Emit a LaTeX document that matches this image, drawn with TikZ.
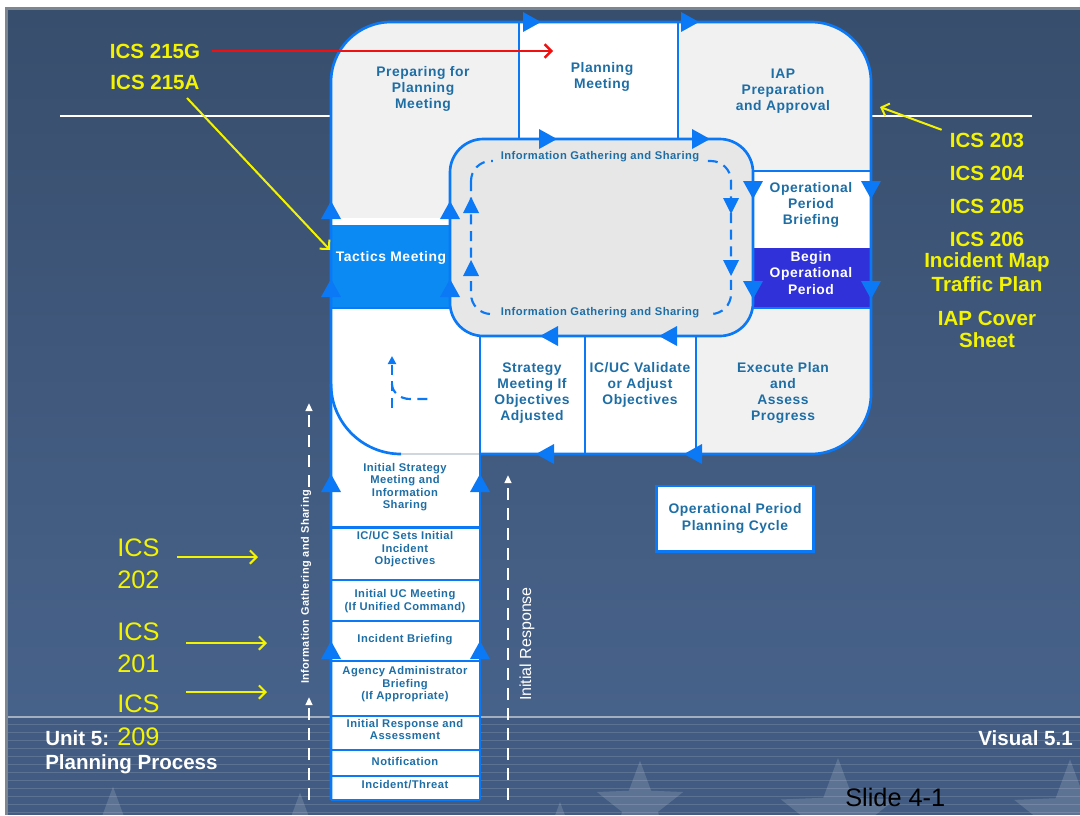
\documentclass[tikz,border=0pt]{standalone}
\usepackage{fontspec}
\setmainfont{Liberation Sans}
\usetikzlibrary{arrows.meta,shapes.geometric}
\definecolor{cblue}{HTML}{0B78F5}
\definecolor{ctext}{HTML}{1E6EA6}
\definecolor{cgray}{HTML}{F1F1F1}
\definecolor{cinner}{HTML}{E7E7E7}
\definecolor{ctac}{HTML}{0A8AF2}
\definecolor{cbegin}{HTML}{3131D9}
\definecolor{cyel}{HTML}{F4F400}
\definecolor{bgtop}{HTML}{384E6D}
\definecolor{bgbot}{HTML}{47628A}
\definecolor{bgband}{HTML}{415B82}
\definecolor{cframe}{HTML}{7C8590}
\definecolor{cbandline}{HTML}{A3AEBF}
\definecolor{cred}{HTML}{F01010}
\definecolor{csep}{HTML}{D0D6DE}

\newcommand\spaced{\addfontfeature{LetterSpace=4}}

\tikzset{
  outl/.style={draw=cblue, line width=2pt},
  sepl/.style={draw=cblue, line width=1.6pt},
  dloop/.style={draw=cblue, line width=1.6pt, dash pattern=on 7.5pt off 5pt},
  lbl/.style={font=\bfseries\fontsize{10.4}{12.2}\selectfont\spaced, text=ctext, align=center, inner sep=0pt},
  wlbl/.style={lbl, text=white},
  slbl/.style={font=\bfseries\fontsize{8.4}{9.4}\selectfont\spaced, text=ctext, align=center, inner sep=0pt},
  ilbl/.style={font=\bfseries\fontsize{8.4}{9}\selectfont\spaced, text=ctext, fill=cinner, inner xsep=6pt, inner ysep=2pt},
  ylbl/.style={font=\bfseries\fontsize{15.4}{18}\selectfont, text=cyel, inner sep=0pt},
  yreg/.style={font=\fontsize{19}{23}\selectfont, text=cyel, inner sep=0pt, anchor=west},
  foot/.style={font=\bfseries\fontsize{15.4}{17}\selectfont, text=white, inner sep=0pt},
  yarr/.style={draw=cyel, line width=1.5pt, -{Straight Barb[length=5pt,width=10pt,line width=1.5pt]}},
  rarr/.style={draw=cred, line width=1.8pt, -{Straight Barb[length=5pt,width=10pt,line width=1.8pt]}},
  warr/.style={draw=white, line width=1.5pt, dash pattern=on 9pt off 6pt, -{Triangle[length=6pt,width=5pt]}},
  starsh/.style={star, star points=5, star point ratio=2.4, fill=white, opacity=.15, draw=none, inner sep=0pt},
  triU/.pic={\fill[cblue] (-10,9) -- (10,9) -- (0,-9) -- cycle;},
  triD/.pic={\fill[cblue] (-10,-9) -- (10,-9) -- (0,9) -- cycle;},
  triR/.pic={\fill[cblue] (-9,-10) -- (-9,10) -- (9,0) -- cycle;},
  triL/.pic={\fill[cblue] (9,-10) -- (9,10) -- (-9,0) -- cycle;},
  stU/.pic={\fill[cblue] (-8,8) -- (8,8) -- (0,-8) -- cycle;},
  stD/.pic={\fill[cblue] (-8,-8) -- (8,-8) -- (0,8) -- cycle;},
}

\begin{document}
\begin{tikzpicture}[x=0.75pt,y=-0.75pt]
\useasboundingbox (0,0) rectangle (1080,815);
\clip (0,0) rectangle (1080,815);

% slide background and frame
\fill[white] (0,0) rectangle (1080,815);
\fill[cframe] (5,7) rectangle (1080,815);
\shade[top color=bgtop, bottom color=bgbot] (8,10) rectangle (1080,717);
\fill[bgband] (8,717) rectangle (1080,815);
\begin{scope}
  \clip (8,717) rectangle (1080,815);
  \node[starsh, minimum size=68pt] (st1) at (113,832) {};
  \node[starsh, minimum size=68pt] (st2) at (300,838) {};
  \node[starsh, minimum size=60pt] (st3) at (560,842) {};
  \node[starsh, minimum size=68pt] (st4) at (640,806) {};
  \node[starsh, minimum size=90pt] (st5) at (838,818) {};
  \node[starsh, minimum size=88pt] (st6) at (1070,818) {};
  \foreach \yy in {724,732,...,812}
    \draw[white, opacity=.14, line width=.6pt] (8,\yy) -- (1080,\yy);
\end{scope}
\draw[cbandline, line width=1pt] (8,717) -- (1080,717);

% white rules through the header
\draw[white, line width=1.6pt] (60,116) -- (331,116);
\draw[white, line width=1.6pt] (871,116) -- (1032,116);

% cycle body
\fill[cgray] (331,454) [rounded corners=45pt] -- (331,22) -- (871,22) -- (871,454) -- (400,454);
\fill[white] (519,22) rectangle (678,139);
\fill[white] (331,308) rectangle (480,454);
\fill[white] (480,336) rectangle (696,454);
\fill[white] (753,171) rectangle (871,248);
\fill[cbegin] (753,248) rectangle (871,308);
\fill[white] (331,218) rectangle (450,225);
\fill[ctac] (331,225) rectangle (450,308);

% initial-response column
\fill[white] (331,454) rectangle (480,800);
\foreach \yy in {527.5,580,621,661,716,750,776}
  \draw[sepl] (331,\yy) -- (480,\yy);
\draw[outl] (331,800) -- (480,800);
\draw[csep, line width=.8pt] (401,454) -- (480,454);

% inner information loop box
\filldraw[fill=cinner, draw=cblue, line width=2pt, rounded corners=25pt] (450,139) rectangle (753,336);

% outlines and dividers
\draw[outl] (480,454) [rounded corners=45pt] -- (871,454) -- (871,22) -- (331,22) -- (331,800);
\draw[outl] (480,336) -- (480,800);
\draw[outl] (519,22) -- (519,139);
\draw[outl] (678,22) -- (678,139);
\draw[outl] (585,336) -- (585,454);
\draw[outl] (696,336) -- (696,454);
\draw[outl] (753,171) -- (871,171);
\draw[outl] (753,171) -- (753,308);
\draw[sepl] (331,308) -- (450,308);
\draw[sepl] (753,308) -- (871,308);
\draw[outl] (331,384) .. controls (331,422.6) and (362.4,454) .. (401,454);

% small dashed turn in the lower corner
\draw[dloop, -{Triangle[length=6pt,width=6pt]}] (392,408) -- (392,356);
\draw[dloop] (392,384) .. controls (392,392) and (400,399) .. (410,399) -- (430,399);

% dashed loop inside the information box
\draw[dloop, rounded corners=15pt] (471,161) rectangle (731,314);
\node[ilbl] (igTop) at (600,157) {Information Gathering and Sharing};
\node[ilbl] (igBot) at (600,313) {Information Gathering and Sharing};
\pic at (471,205) {stU};
\pic at (471,268) {stU};
\pic at (731,206) {stD};
\pic at (731,268) {stD};

% flow triangles
\pic at (532,22) {triR};
\pic at (690,22) {triR};
\pic at (548,139) {triR};
\pic at (701,139) {triR};
\pic at (753,190) {triD};
\pic at (871,190) {triD};
\pic at (753,290) {triD};
\pic at (871,290) {triD};
\pic at (331,210) {triU};
\pic at (450,210) {triU};
\pic at (331,288) {triU};
\pic at (450,288) {triU};
\pic at (331,483) {triU};
\pic at (480,483) {triU};
\pic at (331,650) {triU};
\pic at (480,650) {triU};
\pic at (549,336) {triL};
\pic at (668,336) {triL};
\pic at (545,454) {triL};
\pic at (693,454) {triL};

% step labels
\node[lbl] (prep) at (423,89) {Preparing for\\Planning\\Meeting};
\node[lbl] (plan) at (602,77) {Planning\\Meeting};
\node[lbl] (iap) at (783,91) {IAP\\Preparation\\and Approval};
\node[lbl] (opb) at (811,205) {Operational\\Period\\Briefing};
\node[wlbl] (bop) at (811,273) {Begin\\Operational\\Period};
\node[wlbl] (tac) at (391,258) {Tactics Meeting};
\node[lbl] (strat) at (532,393) {Strategy\\Meeting If\\Objectives\\Adjusted};
\node[lbl] (valid) at (640,385) {IC/UC Validate\\or Adjust\\Objectives};
\node[lbl] (exec) at (783,393) {Execute Plan\\and\\Assess\\Progress};

\node[slbl] (c1) at (405,487) {Initial Strategy\\Meeting and\\Information\\Sharing};
\node[slbl] (c2) at (405,549.5) {IC/UC Sets Initial\\Incident\\Objectives};
\node[slbl] (c3) at (405,601) {Initial UC Meeting\\(If Unified Command)};
\node[slbl] (c4) at (405,640) {Incident Briefing};
\node[slbl] (c5) at (405,684.5) {Agency Administrator\\Briefing\\(If Appropriate)};
\node[slbl] (c6) at (405,729.5) {Initial Response and\\Assessment};
\node[slbl] (c7) at (405,761) {Notification};
\node[slbl] (c8) at (405,785) {Incident/Threat};

% cycle title box
\node[lbl, fill=white, draw=cblue, line width=2pt, minimum width=118pt, minimum height=49pt] (title) at (735,518.5) {Operational Period\\Planning Cycle};

% dashed side arrows
\coordinate (igBase) at (309,800);
\coordinate (igMid) at (309,697);
\coordinate (igRes) at (309,487);
\coordinate (igTip) at (309,403);
\draw[warr] (igBase) -- (igMid);
\draw[warr] (igRes) -- (igTip);
\node[font=\bfseries\fontsize{8.2}{9}\selectfont\spaced, text=white, rotate=90, inner sep=0pt] (igSide) at (306,587) {Information Gathering and Sharing};
\coordinate (irBase) at (508,800);
\coordinate (irTip) at (508,475);
\draw[warr] (irBase) -- (irTip);
\node[font=\fontsize{12}{14}\selectfont, text=white, rotate=90, inner sep=0pt] (irSide) at (527,644) {Initial Response};

% form references
\node[ylbl] (f215g) at (155,51) {ICS 215G};
\node[ylbl] (f215a) at (155,82) {ICS 215A};
\coordinate (redEnd) at (553,51);
\draw[rarr] ([xshift=9pt]f215g.east) -- (f215g.east -| redEnd);
\coordinate (yaStart) at (187,98);
\draw[yarr] (yaStart) -- ([yshift=6pt]tac.west -| 330,0);

\node[ylbl] (f203) at (987,140) {ICS 203};
\node[ylbl] (f204) at (987,173) {ICS 204};
\node[ylbl] (f205) at (987,206) {ICS 205};
\node[ylbl] (f206) at (987,239) {ICS 206};
\node[ylbl] (fmap) at (987,262) {Incident Map};
\node[ylbl] (ftraf) at (987,284) {Traffic Plan};
\node[ylbl] (fcov) at (987,318) {IAP Cover};
\node[ylbl] (fsheet) at (987,340) {Sheet};
\coordinate (iapEdge) at (880,107);
\draw[yarr] ([xshift=-6pt,yshift=2pt]f203.north west) -- (iapEdge);

\node[yreg] (f202a) at (117,548) {ICS};
\node[yreg] (f202b) at (117,580) {202};
\node[yreg] (f201a) at (117,632) {ICS};
\node[yreg] (f201b) at (117,664) {201};
\node[yreg] (f209a) at (117,704) {ICS};
\node[yreg] (f209b) at (117,737) {209};
\coordinate (e202) at (258,557);
\coordinate (e201) at (267,643);
\coordinate (e209) at (267,692);
\draw[yarr] (177,557) -- (e202);
\draw[yarr] (186,643) -- (e201);
\draw[yarr] (186,692) -- (e209);

% footer
\node[foot, anchor=west] (unit) at (45,738) {Unit 5:};
\node[foot, anchor=west] (proc) at (45,764) {Planning Process};
\node[foot, anchor=east] (vis) at (1073,738) {Visual 5.1};
\node[font=\fontsize{19}{22}\selectfont, text=black, inner sep=0pt, anchor=west] (slide) at (845,797) {Slide 4-1};
\end{tikzpicture}
\end{document}
